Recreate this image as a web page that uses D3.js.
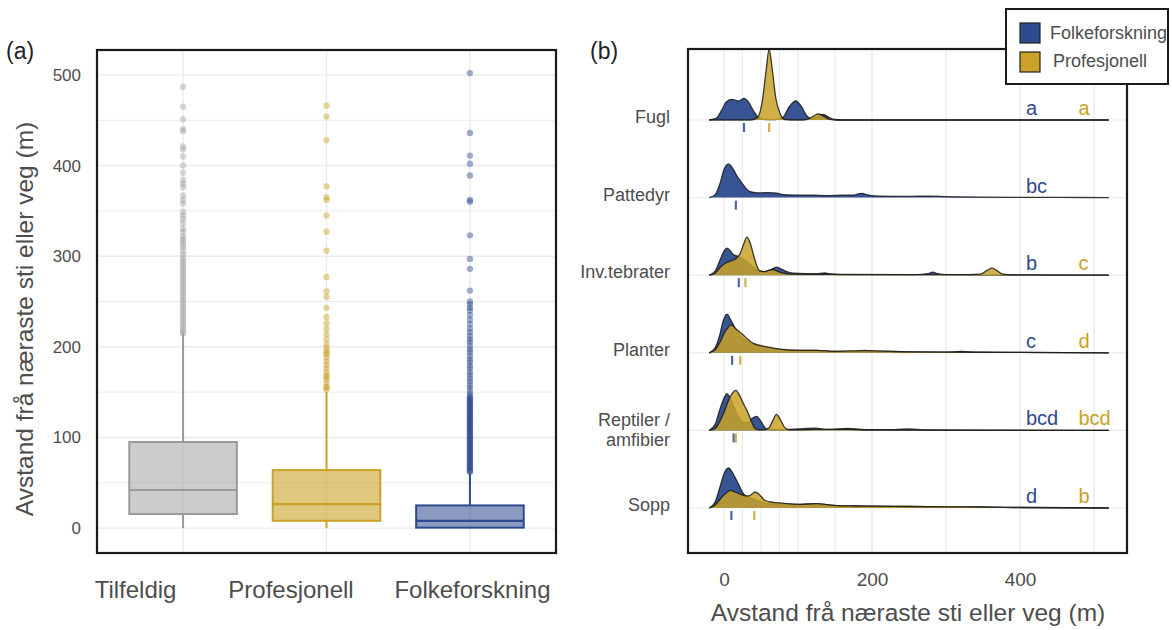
<!DOCTYPE html>
<html><head><meta charset="utf-8">
<script src="https://cdn.jsdelivr.net/npm/d3@7"></script>
<style>body{margin:0;background:#fff} svg{display:block;font-family:"Liberation Sans",Arial,sans-serif}</style>
</head><body><svg id="c" width="1172" height="630"></svg>
<script>
// ---------------- DATA: panel (a) boxplots ----------------
const groupsA = ["Tilfeldig", "Profesjonell", "Folkeforskning"];
const boxQ1 = [15.5, 8, 0.5];
const boxMedian = [42, 26.5, 8];
const boxQ3 = [95, 64, 25];
const whiskerLow = [0, 0, 0];
const whiskerHigh = [215, 150, 60];
const outTilfeldig = [487,465,451,440,438,421,418,410,400,392,384,380,376,367,362,358,349,345,341,336,330,327,322,319,316,313,310,306,302,298,295,292,289,286,283,280,277,274,271,268,265,262,259,256,253,250,247,244,241,238,235,232,229,226,223,220,217,215];
const outProfesjonell = [466,454,428,377,365,362,345,327,306,277,261,255,243,233,226,220,214,208,203,199,196,193,192,188,184,180,176,172,168,167,164,160,156,155,153];
const outFolkeforskning = [502,436,411,402,389,362,360,323,297,286,262,250,247,243,240,235,230,225,220,216,212,208,205,201,197,194,190,186,183,179,176,172,169,165,162,158,155,151,148,145,144,142,141,139,138,136,135,133,132,130,129,127,126,124,123,121,120,118,117,115,114,112,111,109,108,106,105,103,102,100,99,97,96,94,93,91,90,88,87,85,84,82,81,79,78,76,75,73,72,70,69,67,66,64,63,62];
const outliersA = [outTilfeldig, outProfesjonell, outFolkeforskning];
const yTicksA = [0, 100, 200, 300, 400, 500];

// ---------------- DATA: panel (b) ridgelines ----------------
const rowsB = ["Fugl", "Pattedyr", "Inv.tebrater", "Planter", "Reptiler / amfibier", "Sopp"];
const seriesB = ["Folkeforskning", "Profesjonell"];
// density profiles: [distance (m), relative density]
const fuglFolk = [[-20,0],[-10,2],[-3,10],[3,18],[10,20.7],[16,19.5],[20,19],[27,21.7],[33,18],[40,9],[46,3],[52,1],[60,0.3],[70,0.5],[80,3],[88,13],[97,19],[105,13],[112,4],[118,1.5],[125,3],[134,5.5],[142,2.5],[150,0.5],[160,0],[520,0]];
const fuglProf = [[-20,0],[30,0],[40,0.5],[46,3],[52,20],[57,50],[61,71],[65,52],[70,22],[76,6],[82,0.5],[100,0],[112,0.5],[120,3.5],[127,6],[134,4],[141,1],[150,0],[520,0]];
const pattFolk = [[-20,0],[-12,3],[-5,15],[0,28],[6,33.7],[12,29],[18,21],[24,14.7],[30,9],[35,6],[42,5],[50,4.8],[60,5],[71,4.5],[80,3],[100,2.5],[120,2.5],[140,2],[160,2.5],[175,2.5],[186,4.3],[195,2.5],[210,1.5],[250,1.2],[280,1.5],[300,1],[350,0.5],[400,0.3],[450,0.2],[520,0]];
const pattProf = null;
const invFolk = [[-20,0],[-12,4],[-5,16],[0,24],[4,27],[9,24],[12,21],[18,19],[24,17],[30,14],[38,9],[45,5],[49,4],[55,3.5],[62,5],[71,8],[78,6],[85,3.5],[93,2],[110,1.5],[125,1.5],[136,2.2],[145,1.2],[160,0.6],[200,0.5],[260,0.5],[275,1.5],[282,3],[289,1.5],[300,0.5],[360,0.3],[520,0]];
const invProf = [[-20,0],[-12,2],[-5,8],[2,12],[8,14],[15,16],[22,22],[27,32],[31,38],[35,33],[40,20],[45,8],[49,4],[55,3.5],[61,5],[66,5.7],[72,4],[80,2],[90,1],[150,0.8],[250,0.5],[330,0.5],[346,1],[356,5],[362,7],[368,5],[377,1],[390,0.3],[520,0]];
const plantFolk = [[-20,0],[-12,5],[-6,17],[-1,32],[4,38.7],[9,33],[14,26],[17,22],[22,17],[30,12],[40,8],[55,5.5],[75,3.5],[100,2.5],[125,2.5],[150,1.5],[175,1.5],[190,2.5],[205,1.5],[250,1],[300,0.7],[320,1.3],[340,0.7],[400,0.4],[520,0]];
const plantProf = [[-20,0],[-12,3],[-5,11],[0,19],[5,25],[10,27.7],[16,24],[26,17.7],[39,9.7],[58,6],[76,3.7],[100,2.5],[125,2.5],[150,1.5],[190,2.2],[250,1],[300,0.7],[400,0.4],[520,0]];
const reptFolk = [[-20,0],[-12,6],[-6,20],[0,32],[4,36.7],[9,31],[14,22],[20,13],[26,8],[32,8],[38,12],[44,14],[50,9],[55,3],[60,1],[70,0.8],[85,1],[100,1.5],[123,2.2],[140,1],[168,2],[190,0.8],[230,0.8],[251,1.5],[270,0.6],[520,0]];
const reptProf = [[-20,0],[-12,2],[-5,10],[0,18],[6,30],[11,37],[16,40],[21,35],[26,27],[31,20],[35,13],[40,4],[44,1],[52,0.5],[60,2],[66,10],[71,16],[76,11],[82,3],[88,0.5],[100,0.5],[123,1],[168,1],[200,0.3],[520,0]];
const soppFolk = [[-20,0],[-12,6],[-5,22],[0,34],[6,40],[11,36],[17,27.7],[22,20],[26,14.7],[32,11],[40,9],[50,6],[60,4],[71,4],[100,3.5],[125,4],[148,2.7],[175,2],[200,1.8],[250,1.5],[300,1.2],[346,1],[400,0.5],[520,0]];
const soppProf = [[-20,0],[-12,3],[-6,8],[-3,11],[3,15],[8,17.7],[15,16],[26,12.7],[33,12],[38,14],[42,16],[47,14],[55,7.7],[63,6],[71,5.3],[85,4.3],[103,3.7],[125,4.3],[148,2.7],[175,2],[200,1.8],[250,1.5],[300,1.2],[346,1],[400,0.5],[520,0]];
const densFolk = [fuglFolk, pattFolk, invFolk, plantFolk, reptFolk, soppFolk];
const densProf = [fuglProf, pattProf, invProf, plantProf, reptProf, soppProf];
const medianFolk = [27, 16, 20, 11, 13, 10];
const medianProf = [61, null, 29, 22, 16, 41];
const lettersFolk = ["a", "bc", "b", "c", "bcd", "d"];
const lettersProf = ["a", "", "c", "d", "bcd", "b"];
const xTicksB = [0, 200, 400];
const xGridB = [0, 25, 50, 75, 100, 150, 200, 300, 400, 500];

// ---------------- STYLE ----------------
const colA = ["#9a9a9a", "#c9a227", "#2c4a8c"];
const fillOpA = [0.5, 0.6, 0.55];
const colFolk = "#2e4b8e", colProf = "#c9a227";
const gridCol = "#ebebeb", textCol = "#4d4d4d";

const svg = d3.select("#c");

// ================= PANEL (a) =================
const A = {l: 97, r: 556, t: 50, b: 553};
const xA = d3.scalePoint().domain(groupsA).range([A.l, A.r]).padding(0.6);
const yA = d3.scaleLinear().domain([-27.5, 527.5]).range([A.b, A.t]);
const gA = svg.append("g");
const clipA = svg.append("clipPath").attr("id", "clipA").append("rect")
  .attr("x", A.l).attr("y", A.t).attr("width", A.r - A.l).attr("height", A.b - A.t);
// grid
gA.append("g").selectAll("line").data(d3.range(0, 501, 50)).join("line")
  .attr("x1", A.l).attr("x2", A.r).attr("y1", d => yA(d)).attr("y2", d => yA(d))
  .attr("stroke", gridCol).attr("stroke-width", d => d % 100 === 0 ? 1.4 : 1);
gA.append("g").selectAll("line").data(groupsA).join("line")
  .attr("x1", d => xA(d)).attr("x2", d => xA(d)).attr("y1", A.t).attr("y2", A.b)
  .attr("stroke", gridCol).attr("stroke-width", 1.4);
const bw = xA.step() * 0.75;
groupsA.forEach((g, i) => {
  const cx = xA(g), c = colA[i];
  gA.append("line").attr("x1", cx).attr("x2", cx)
    .attr("y1", yA(whiskerLow[i])).attr("y2", yA(boxQ1[i])).attr("stroke", c).attr("stroke-width", 2);
  gA.append("line").attr("x1", cx).attr("x2", cx)
    .attr("y1", yA(boxQ3[i])).attr("y2", yA(whiskerHigh[i])).attr("stroke", c).attr("stroke-width", 2);
  gA.append("rect").attr("x", cx - bw / 2).attr("width", bw)
    .attr("y", yA(boxQ3[i])).attr("height", yA(boxQ1[i]) - yA(boxQ3[i]))
    .attr("fill", c).attr("fill-opacity", fillOpA[i]).attr("stroke", c).attr("stroke-width", 2);
  gA.append("line").attr("x1", cx - bw / 2).attr("x2", cx + bw / 2)
    .attr("y1", yA(boxMedian[i])).attr("y2", yA(boxMedian[i])).attr("stroke", c).attr("stroke-width", 2.2);
  gA.append("g").selectAll("circle").data(outliersA[i]).join("circle")
    .attr("cx", cx).attr("cy", d => yA(d)).attr("r", 3.2)
    .attr("fill", c).attr("fill-opacity", i === 0 ? 0.4 : 0.45);
});
// y axis
const axA = svg.append("g").attr("transform", `translate(${A.l},0)`)
  .call(d3.axisLeft(yA).tickValues(yTicksA).tickSize(0).tickPadding(16));
axA.select(".domain").remove();
axA.selectAll("text").attr("font-size", 17).attr("fill", textCol).attr("font-family", "Liberation Sans, Arial, sans-serif");
// x axis (labels sit slightly left of the boxes as in the original figure)
const labelShiftA = [-48, -36, 2];
const axAx = svg.append("g").attr("transform", `translate(0,${A.b})`)
  .call(d3.axisBottom(xA).tickSize(0).tickPadding(28));
axAx.select(".domain").remove();
axAx.selectAll("text").attr("font-size", 24).attr("fill", textCol)
  .attr("font-family", "Liberation Sans, Arial, sans-serif")
  .attr("dx", (d, i) => labelShiftA[i]);
svg.append("rect").attr("x", A.l).attr("y", A.t).attr("width", A.r - A.l).attr("height", A.b - A.t)
  .attr("fill", "none").attr("stroke", "#1a1a1a").attr("stroke-width", 2.2);
svg.append("text").attr("transform", `translate(33,319) rotate(-90)`).attr("text-anchor", "middle")
  .attr("font-size", 24.5).attr("fill", textCol).text("Avstand frå næraste sti eller veg (m)");
svg.append("text").attr("x", 6).attr("y", 59).attr("font-size", 23).attr("fill", "#222").text("(a)");

// ================= PANEL (b) =================
const B = {l: 688, r: 1127, t: 49, b: 553};
const xB = d3.scaleLinear().domain([-48.65, 544.6]).range([B.l, B.r]);
const yB = d3.scalePoint().domain(rowsB).range([120, 508]);
const hB = d3.scaleLinear().domain([0, 71]).range([0, 71]);
const gB = svg.append("g");
gB.append("g").selectAll("line").data(xGridB).join("line")
  .attr("x1", d => xB(d)).attr("x2", d => xB(d)).attr("y1", B.t).attr("y2", B.b)
  .attr("stroke", gridCol).attr("stroke-width", d => d % 100 === 0 ? 1.4 : 1);
gB.append("g").selectAll("line").data(rowsB).join("line")
  .attr("x1", B.l).attr("x2", B.r).attr("y1", d => yB(d)).attr("y2", d => yB(d))
  .attr("stroke", gridCol).attr("stroke-width", 1.2);

rowsB.forEach((row, i) => {
  const base = yB(row);
  const area = d3.area().curve(d3.curveMonotoneX)
    .x(d => xB(d[0])).y0(base).y1(d => base - hB(d[1]));
  const line = d3.line().curve(d3.curveMonotoneX)
    .x(d => xB(d[0])).y(d => base - hB(d[1]));
  [[densFolk[i], colFolk, 0.95], [densProf[i], colProf, 0.85]].forEach(([dat, col, op]) => {
    if (!dat) return;
    gB.append("path").datum(dat).attr("d", area).attr("fill", col).attr("fill-opacity", op);
    gB.append("path").datum(dat).attr("d", line).attr("fill", "none")
      .attr("stroke", "#1a1a1a").attr("stroke-width", 1.3).attr("stroke-opacity", 0.85);
  });
  // median ticks
  [[medianFolk[i], colFolk], [medianProf[i], colProf]].forEach(([m, col]) => {
    if (m == null) return;
    gB.append("line").attr("x1", xB(m)).attr("x2", xB(m)).attr("y1", base + 3).attr("y2", base + 12)
      .attr("stroke", col).attr("stroke-width", 2.2).attr("stroke-opacity", 0.85);
  });
  // letters
  gB.append("text").attr("x", xB(408)).attr("y", base - 5).attr("font-size", 20)
    .attr("fill", colFolk).text(lettersFolk[i]);
  gB.append("text").attr("x", xB(479)).attr("y", base - 5).attr("font-size", 20)
    .attr("fill", colProf).text(lettersProf[i]);
  // row labels
  const parts = row.split(" / ");
  if (parts.length === 2) {
    svg.append("text").attr("x", 670).attr("y", base - 4).attr("text-anchor", "end")
      .attr("font-size", 18).attr("fill", textCol).text(parts[0] + " /");
    svg.append("text").attr("x", 670).attr("y", base + 16).attr("text-anchor", "end")
      .attr("font-size", 18).attr("fill", textCol).text(parts[1]);
  } else {
    svg.append("text").attr("x", 670).attr("y", base + 3).attr("text-anchor", "end")
      .attr("font-size", 18).attr("fill", textCol).text(row);
  }
});
const axB = svg.append("g").attr("transform", `translate(0,${B.b})`)
  .call(d3.axisBottom(xB).tickValues(xTicksB).tickSize(0).tickPadding(20));
axB.select(".domain").remove();
axB.selectAll("text").attr("font-size", 19).attr("fill", textCol).attr("font-family", "Liberation Sans, Arial, sans-serif");
svg.append("text").attr("x", 908).attr("y", 621).attr("text-anchor", "middle")
  .attr("font-size", 24.5).attr("fill", textCol).text("Avstand frå næraste sti eller veg (m)");
svg.append("rect").attr("x", B.l).attr("y", B.t).attr("width", B.r - B.l).attr("height", B.b - B.t)
  .attr("fill", "none").attr("stroke", "#1a1a1a").attr("stroke-width", 2.2);
svg.append("text").attr("x", 590).attr("y", 59).attr("font-size", 23).attr("fill", "#222").text("(b)");

// legend
const lg = svg.append("g");
lg.append("rect").attr("x", 1006).attr("y", 9).attr("width", 162).attr("height", 75)
  .attr("fill", "#fff").attr("stroke", "#1a1a1a").attr("stroke-width", 2);
seriesB.forEach((s, i) => {
  lg.append("rect").attr("x", 1020).attr("y", 23 + i * 29).attr("width", 20).attr("height", 20)
    .attr("fill", i === 0 ? colFolk : colProf).attr("stroke", "#222").attr("stroke-width", 1.2);
  lg.append("text").attr("x", 1050 + i * 3).attr("y", 39 + i * 28).attr("font-size", 18)
    .attr("fill", textCol).text(s);
});
</script></body></html>
